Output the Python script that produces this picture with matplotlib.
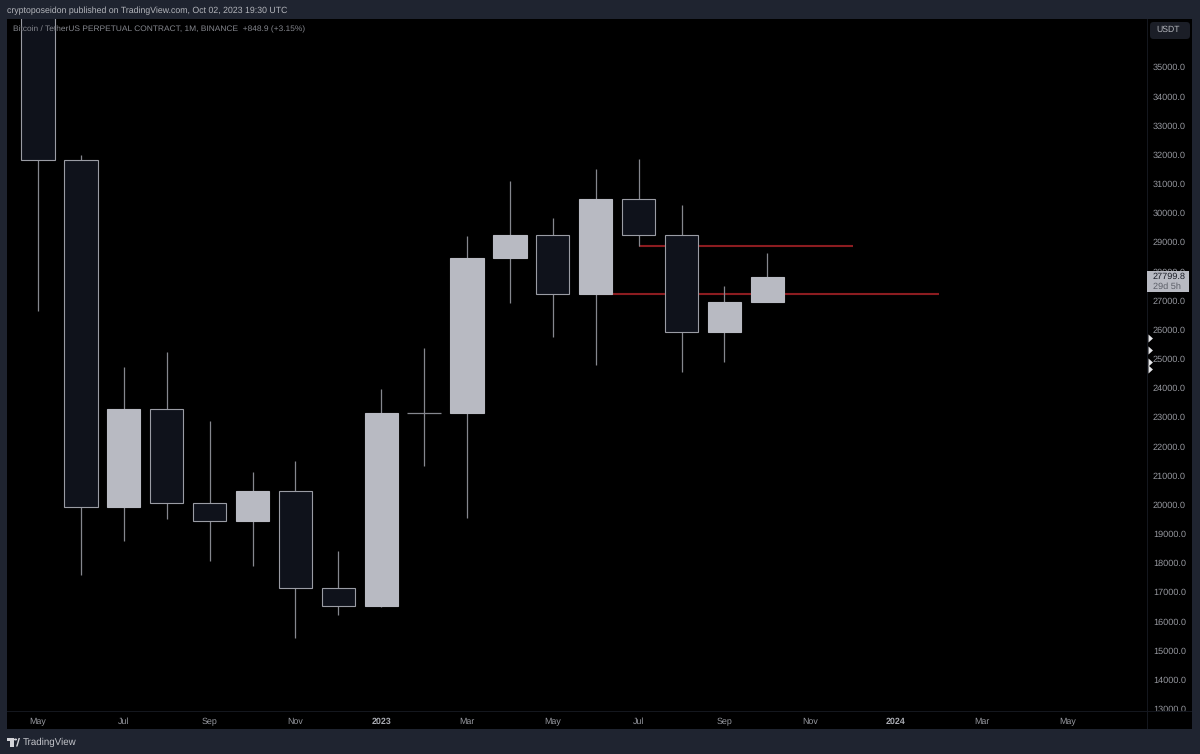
import matplotlib
matplotlib.use('Agg')
import matplotlib.pyplot as plt
from matplotlib.patches import Rectangle, FancyBboxPatch, Polygon, Circle
from matplotlib.transforms import blended_transform_factory

# Kerzen, Mai 2022 bis Okt 2023
opens = [37630, 31800, 19930, 23280, 20050, 19420, 20480, 17150, 16530, 23130, 23140, 28450, 29230, 27220, 30470, 29230, 25930, 26960]
highs = [39800, 31980, 24700, 25230, 22860, 21110, 21480, 18400, 23960, 25370, 29200, 31090, 29820, 31500, 31850, 30270, 27480, 28620]
lows = [26635, 17590, 18750, 19500, 18070, 17900, 15430, 16230, 16500, 21320, 19550, 26900, 25740, 24780, 28870, 24540, 24890, 26950]
closes = [31800, 19930, 23280, 20050, 19420, 20480, 17150, 16530, 23130, 23140, 28450, 29230, 27220, 30470, 29230, 25930, 26960, 27800]

# Roter Horizontalbereich: (von Index, bis Index, Preis)
level_prices = [28870, 27210]
level_starts = [14, 13]
level_ends = [19, 21]

price_ticks = list(range(13000, 36000, 1000))
month_ticks = [0, 2, 4, 6, 8, 10, 12, 14, 16, 18, 20, 22, 24]
month_labels = ['May', 'Jul', 'Sep', 'Nov', '2023', 'Mar', 'May', 'Jul', 'Sep', 'Nov', '2024', 'Mar', 'May']
marker_prices = [25710, 25300, 24880, 24640]
last_price = 27799.8

W, H = 1200, 754
FRAME = '#1f2430'
UP = '#b8bac2'
DOWN = '#0f121b'
EDGE = '#9a9ca4'
WICK = '#85878e'
LABEL = '#96989f'
SEP = '#14171e'

plt.rcParams['font.family'] = ['Liberation Sans', 'DejaVu Sans']
plt.rcParams['text.hinting'] = 'none'
plt.rcParams['text.hinting_factor'] = 8

fig = plt.figure(figsize=(W / 100, H / 100), dpi=100, facecolor=FRAME)


# Rechteck in Bildpixeln (y von oben)
def px_rect(x0, y0, x1, y1, color, zorder):
    r = Rectangle((x0 / W, 1 - y1 / H), (x1 - x0) / W, (y1 - y0) / H, transform=fig.transFigure,
                  facecolor=color, edgecolor='none', zorder=zorder)
    fig.add_artist(r)
    return r


def px_text(x, y, s, **kw):
    return fig.text(x / W, 1 - y / H, s, va='center', **kw)


# Panel
px_rect(7, 19, 1192, 729, 'black', -1)

# Achse: von Pixel 7..1147 und 19..711
ax = fig.add_axes([7 / W, 1 - 711 / H, (1147 - 7) / W, (711 - 19) / H])
ax.patch.set_alpha(0)
for s in ax.spines.values():
    s.set_visible(False)
ax.set_xlim(-0.7226, 25.85)
ax.set_ylim(12923, 36645)

# Level-Linien
for p, a, b in zip(level_prices, level_starts, level_ends):
    ax.hlines(p, a, b, color='#8c1c20', linewidth=1.5, zorder=1)

# Kerzen
for i in range(len(opens)):
    up = closes[i] >= opens[i]
    ax.vlines(i, lows[i], highs[i], color=WICK, linewidth=0.9, zorder=2)
    bottom = min(opens[i], closes[i])
    height = abs(closes[i] - opens[i])
    if height < 60:
        ax.hlines(opens[i], i - 0.4, i + 0.4, color=WICK, linewidth=0.9, zorder=3)
    else:
        ax.bar(i, height, bottom=bottom, width=0.775, color=UP if up else DOWN,
               edgecolor=UP if up else EDGE, linewidth=0.8, zorder=3)

# Achsenbeschriftung
ax.yaxis.tick_right()
ax.set_yticks(price_ticks)
ax.set_yticklabels(['%.1f' % p for p in price_ticks])
ax.set_xticks(month_ticks)
ax.set_xticklabels(month_labels)
ax.tick_params(axis='y', length=0, pad=4.3, labelsize=6.6, labelcolor=LABEL)
ax.tick_params(axis='x', length=0, pad=9.6, labelsize=6.4, labelcolor=LABEL)
for lab in ax.get_xticklabels():
    lab.set_va('baseline')
    if lab.get_text() in ('2023', '2024'):
        lab.set_fontweight('bold')
        lab.set_color('#a9abb2')

# Marker rechts
trans = blended_transform_factory(ax.transAxes, ax.transData)
ax.plot([1.0005] * len(marker_prices), marker_prices, linestyle='none',
        marker=[(0, -1), (1.1, 0), (0, 1)], markersize=6.4,
        color='#e6e7ea', markeredgecolor='none', transform=trans, clip_on=False, zorder=6)

# Trennlinien, Maske fuer 13000er Label
px_rect(1148, 711.5, 1192, 729, 'black', 2)
px_rect(1146.6, 19, 1147.6, 729, SEP, 3)
px_rect(7, 711, 1192, 712, SEP, 3)

# Kopf und Legende
px_text(7, 10.5, 'cryptoposeidon published on TradingView.com, Oct 02, 2023 19:30 UTC', color='#b4b6bc', fontsize=6.3, zorder=6)
px_text(13, 29.5, 'Bitcoin / TetherUS PERPETUAL CONTRACT, 1M, BINANCE  +848.9 (+3.15%)', color='#85878e', fontsize=6.05, zorder=6)

# USDT Knopf
fig.add_artist(FancyBboxPatch((1150 / W, 1 - 39 / H), 40 / W, 17 / H, boxstyle='round,pad=0,rounding_size=0.003',
                              transform=fig.transFigure, facecolor='#1b1e27', edgecolor='none', zorder=4,
                              mutation_aspect=W / H))
px_text(1156, 30, 'USDT', color='#b4b6bc', fontsize=6.2, zorder=6)

# Aktueller Preis
px_rect(1146.5, 271, 1189, 292, UP, 5)
px_text(1153, 276.5, '%.1f' % last_price, color='#1a1d26', fontsize=6.6, zorder=6)
px_text(1153, 286.5, '29d 5h', color='#5c5f68', fontsize=6.6, zorder=6)

# TradingView Logo unten
px_rect(7, 738, 13.5, 741, '#d4d5d9', 6)
px_rect(10, 738, 13.5, 746.5, '#d4d5d9', 6)
fig.add_artist(Circle((15.5 / W, 1 - 739.5 / H), 1.6 / W, transform=fig.transFigure, facecolor='#d4d5d9',
                      edgecolor='none', zorder=6))
fig.add_artist(Polygon([(17.5 / W, 1 - 746.5 / H), (16 / W, 1 - 746.5 / H), (17 / W, 1 - 743.5 / H),
                        (18.5 / W, 1 - 738 / H), (20 / W, 1 - 738 / H)],
                       transform=fig.transFigure, facecolor='#d4d5d9', edgecolor='none', zorder=6))
px_text(23, 742.5, 'TradingView', color='#c4c6cb', fontsize=7.0, zorder=6)

fig.savefig('out.png', dpi=100, facecolor=FRAME)
